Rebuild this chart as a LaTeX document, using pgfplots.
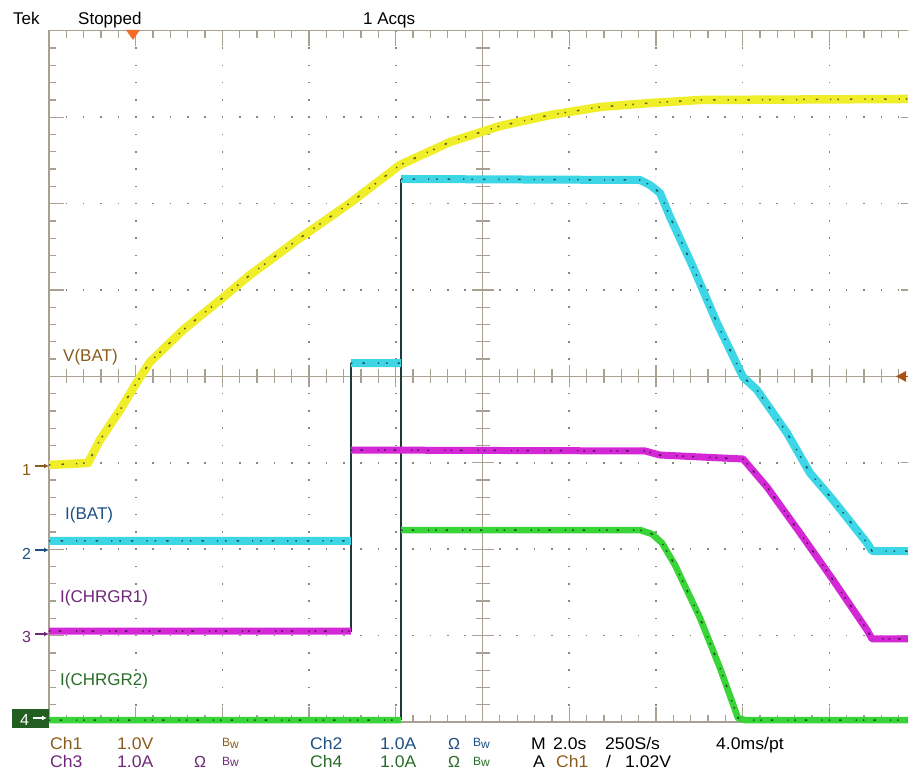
\documentclass[border=0pt]{standalone}
\usepackage{pgfplots}
\pgfplotsset{compat=1.18}
\usepackage{pgfplotstable}
\usepackage{fontspec}
\setmainfont{Liberation Sans}
\usetikzlibrary{arrows.meta}
\definecolor{gridc}{RGB}{168,160,144}
\definecolor{dotc}{RGB}{135,135,135}
\definecolor{ytrace}{RGB}{240,238,40}
\definecolor{ctrace}{RGB}{60,214,230}
\definecolor{mtrace}{RGB}{212,40,214}
\definecolor{gtrace}{RGB}{56,212,56}
\definecolor{edge}{RGB}{30,58,58}
\definecolor{chA}{RGB}{140,92,28}
\definecolor{chB}{RGB}{30,80,130}
\definecolor{chC}{RGB}{112,40,122}
\definecolor{chD}{RGB}{40,110,40}
\definecolor{trig}{RGB}{240,110,40}
\definecolor{trigl}{RGB}{170,80,20}

% Ch1 V(BAT), divisions (x: 0..10, y: 0..8 from bottom)
\pgfplotstableread{
x y
0.000 2.975
0.450 2.998
0.588 3.264
0.819 3.611
1.015 3.935
1.165 4.167
1.546 4.537
1.972 4.884
2.318 5.174
2.895 5.602
3.472 6.007
4.048 6.447
4.625 6.713
5.202 6.898
5.779 7.025
6.355 7.118
6.932 7.164
7.509 7.199
9.908 7.211
}\ychA
% Ch2 I(BAT)
\pgfplotstableread{
x y
0.000 2.095
3.483 2.095
nan nan
3.483 4.155
4.060 4.155
nan nan
4.060 6.285
6.817 6.273
6.932 6.215
7.047 6.123
7.163 5.845
7.428 5.266
7.705 4.618
8.005 3.993
8.166 3.843
8.512 3.345
8.777 2.882
9.043 2.569
9.435 2.072
9.493 1.979
9.908 1.979
}\ychB
% Ch3 I(CHRGR1)
\pgfplotstableread{
x y
0.000 1.053
3.483 1.053
nan nan
3.483 3.148
6.874 3.137
7.047 3.090
8.005 3.044
8.281 2.720
8.662 2.188
9.043 1.644
9.435 1.065
9.493 0.961
9.908 0.961
}\ychC
% Ch4 I(CHRGR2)
\pgfplotstableread{
x y
0.000 0.023
4.060 0.023
nan nan
4.060 2.222
6.817 2.222
6.955 2.176
7.070 2.072
7.220 1.817
7.509 1.204
7.739 0.625
7.947 0.046
8.028 0.023
9.908 0.023
}\ychD

\begin{document}
\begin{tikzpicture}[x=1pt,y=1pt]
\useasboundingbox (0,0) rectangle (908,774);
\fill[white] (0,0) rectangle (908,774);
% ---- graticule ----
\foreach \i in {1,2,3,4,6,7,8,9}
  \draw[dotc, line width=1.6pt, dash pattern=on 1.6pt off 15.68pt, dash phase=0.8pt] ({49+86.7*\i},52) -- ({49+86.7*\i},743.2);
\foreach \j in {1,2,3,5,6,7}
  \draw[dotc, line width=1.6pt, dash pattern=on 1.6pt off 15.74pt, dash phase=0.8pt] (49,{52+86.4*\j}) -- (916,{52+86.4*\j});
\draw[gridc, line width=1.4pt] (49,52) -- (49,743.2) -- (916,743.2);
\draw[gridc, line width=1.4pt] (49,52) -- (916,52);
\draw[gridc, line width=1.4pt] (482.5,52) -- (482.5,743.2);
\draw[gridc, line width=1.4pt] (49,397.6) -- (916,397.6);
\foreach \k [evaluate=\k as \L using {(mod(\k,5)==0) ? 15 : 7}, evaluate=\k as \M using {(mod(\k,5)==0) ? 11 : 7}] in {1,...,49} {
  \draw[gridc, line width=1.3pt] ({49+17.34*\k},743.2) -- ++(0,-\L);
  \draw[gridc, line width=1.3pt] ({49+17.34*\k},52) -- ++(0,\L);
  \draw[gridc, line width=1.3pt] ({49+17.34*\k},{397.6-\M}) -- ++(0,{2*\M});
}
\foreach \k [evaluate=\k as \L using {(mod(\k,5)==0) ? 15 : 7}, evaluate=\k as \M using {(mod(\k,5)==0) ? 11 : 7}] in {1,...,39} {
  \draw[gridc, line width=1.3pt] (49,{52+17.28*\k}) -- ++(\L,0);
  \draw[gridc, line width=1.3pt] (916,{52+17.28*\k}) -- ++(-\L,0);
  \draw[gridc, line width=1.3pt] ({482.5-\M},{52+17.28*\k}) -- ++({2*\M},0);
}
% ---- traces ----
\begin{axis}[at={(49pt,52pt)}, anchor=south west, x=86.7pt, y=86.4pt,
  xmin=0, xmax=9.907, ymin=0, ymax=8, hide axis, clip=false,
  unbounded coords=jump]
\addplot[edge, line width=1.6pt] coordinates {(3.483,1.042) (3.483,4.155)};
\addplot[edge, line width=1.6pt] coordinates {(4.060,0.023) (4.060,6.285)};
\addplot[gtrace, line width=6.5pt, line join=round] table {\ychD};
\addplot[black, line width=1.5pt, opacity=0.6, dash pattern=on 1.5pt off 9pt on 2.5pt off 14pt on 1.2pt off 6pt] table {\ychD};
\addplot[mtrace, line width=7pt, line join=round] table {\ychC};
\addplot[black, line width=1.5pt, opacity=0.6, dash pattern=on 1.5pt off 8pt on 2.5pt off 15pt on 1.2pt off 5pt] table {\ychC};
\addplot[ctrace, line width=8pt, line join=round] table {\ychB};
\addplot[black, line width=1.5pt, opacity=0.6, dash pattern=on 1.5pt off 10pt on 2.5pt off 13pt on 1.2pt off 7pt] table {\ychB};
\addplot[ytrace, line width=8.5pt, line join=round] table {\ychA};
\addplot[black, line width=1.5pt, opacity=0.6, dash pattern=on 1.5pt off 11pt on 2.5pt off 12pt on 1.2pt off 6pt] table {\ychA};
\end{axis}
% ---- markers ----
\fill[trig] (126,744) -- (140,744) -- (133,734) -- cycle;
\fill[trigl] (896,397.6) -- (906,403) -- (906,392.2) -- cycle;
\draw[trigl, line width=1.5pt] (905,397.6) -- (908,397.6);
\fontsize{16}{18}\selectfont
\node[anchor=base west, inner sep=0, chA] at (22,298) {1};
\draw[chA, line width=1.5pt, -{Latex[length=5pt,width=5pt]}] (35,308) -- (49,308);
\node[anchor=base west, inner sep=0, chB] at (22,214) {2};
\draw[chB, line width=1.5pt, -{Latex[length=5pt,width=5pt]}] (35,224) -- (49,224);
\node[anchor=base west, inner sep=0, chC] at (22,131) {3};
\draw[chC, line width=1.5pt, -{Latex[length=5pt,width=5pt]}] (35,140) -- (49,140);
\fill[chD!85!black] (12,46) rectangle (49,65);
\node[anchor=base west, inner sep=0, white] at (20,48) {4};
\draw[white, line width=1.5pt, -{Latex[length=5pt,width=5pt]}] (33,56) -- (47,56);
% ---- labels ----
\fontsize{17}{20}\selectfont
\node[anchor=base west, inner sep=0] at (13,749) {Tek};
\node[anchor=base west, inner sep=0] at (78,749) {Stopped};
\node[anchor=base west, inner sep=0] at (363,749) {1 Acqs};
\node[anchor=base west, inner sep=0, chA] at (63,412) {V(BAT)};
\node[anchor=base west, inner sep=0, chB] at (65,254) {I(BAT)};
\node[anchor=base west, inner sep=0, chC] at (60,171) {I(CHRGR1)};
\node[anchor=base west, inner sep=0, chD] at (60,88) {I(CHRGR2)};
\fontsize{16}{18}\selectfont
\newcommand\Bw{{\fontsize{12}{12}\selectfont\raisebox{3pt}{B}\raisebox{1pt}{w}}}
\newcommand\W[1]{\scalebox{1.1}[1.05]{#1}}
\node[anchor=base west, inner sep=0, chA] at (50,24) {\W{Ch1}};
\node[anchor=base west, inner sep=0, chA] at (117,24) {\W{1.0V}};
\node[anchor=base west, inner sep=0, chA] at (222,24) {\Bw};
\node[anchor=base west, inner sep=0, chB] at (310,24) {\W{Ch2}};
\node[anchor=base west, inner sep=0, chB] at (380,24) {\W{1.0A}};
\node[anchor=base west, inner sep=0, chB] at (448,24) {Ω};
\node[anchor=base west, inner sep=0, chB] at (473,24) {\Bw};
\node[anchor=base west, inner sep=0] at (531,24) {\W{M}};
\node[anchor=base west, inner sep=0] at (553,24) {\W{2.0s}};
\node[anchor=base west, inner sep=0] at (605,24) {\W{250S/s}};
\node[anchor=base west, inner sep=0] at (716,24) {\W{4.0ms/pt}};
\node[anchor=base west, inner sep=0, chC] at (50,6) {\W{Ch3}};
\node[anchor=base west, inner sep=0, chC] at (117,6) {\W{1.0A}};
\node[anchor=base west, inner sep=0, chC] at (194,6) {Ω};
\node[anchor=base west, inner sep=0, chC] at (222,6) {\Bw};
\node[anchor=base west, inner sep=0, chD] at (310,6) {\W{Ch4}};
\node[anchor=base west, inner sep=0, chD] at (380,6) {\W{1.0A}};
\node[anchor=base west, inner sep=0, chD] at (448,6) {Ω};
\node[anchor=base west, inner sep=0, chD] at (473,6) {\Bw};
\node[anchor=base west, inner sep=0] at (533,6) {\W{A}};
\node[anchor=base west, inner sep=0, chA] at (556,6) {\W{Ch1}};
\node[anchor=base west, inner sep=0] at (606,6) {\W{/}};
\node[anchor=base west, inner sep=0] at (625,6) {\W{1.02V}};
\end{tikzpicture}
\end{document}
